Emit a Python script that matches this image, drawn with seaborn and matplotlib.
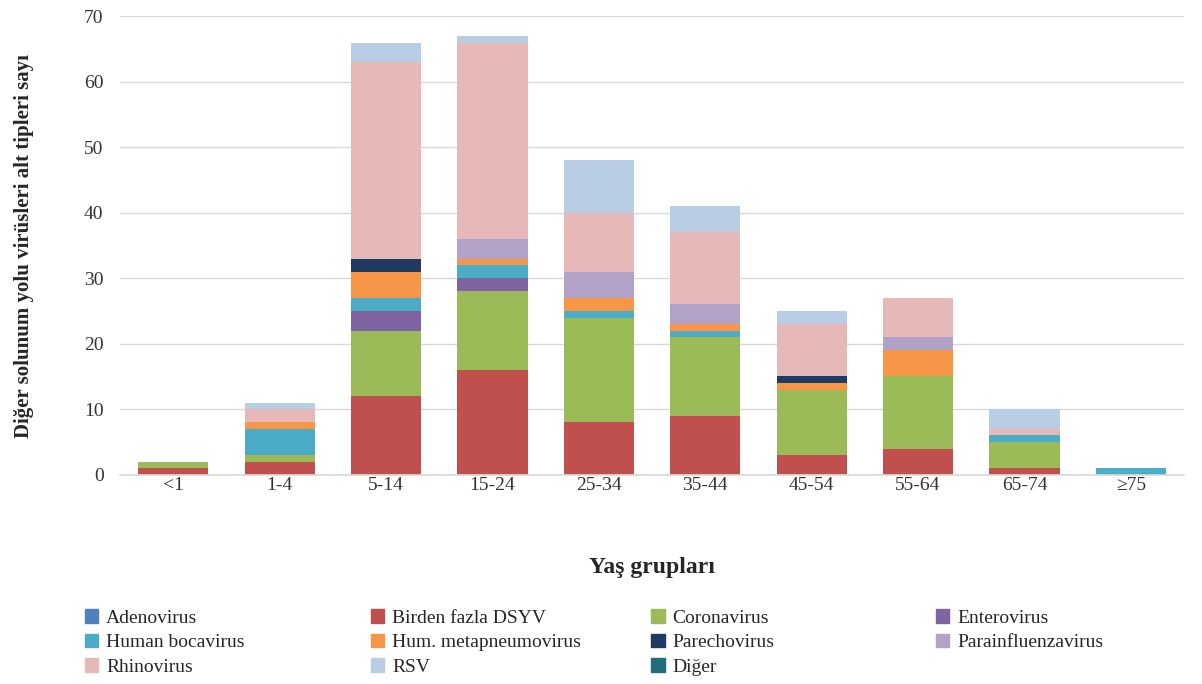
import matplotlib
matplotlib.use("Agg")
import matplotlib.pyplot as plt
import seaborn as sns
import numpy as np
import pandas as pd
from matplotlib.patches import Patch

categories = ["<1", "1-4", "5-14", "15-24", "25-34", "35-44", "45-54", "55-64", "65-74", "≥75"]
series_names = ["Adenovirus", "Birden fazla DSYV", "Coronavirus", "Enterovirus", "Human bocavirus",
                "Hum. metapneumovirus", "Parechovirus", "Parainfluenzavirus", "Rhinovirus", "RSV", "Diğer"]
adenovirus = [0, 0, 0, 0, 0, 0, 0, 0, 0, 0]
dsyv = [1, 2, 12, 16, 8, 9, 3, 4, 1, 0]
coronavirus = [1, 1, 10, 12, 16, 12, 10, 11, 4, 0]
enterovirus = [0, 0, 3, 2, 0, 0, 0, 0, 0, 0]
bocavirus = [0, 4, 2, 2, 1, 1, 0, 0, 1, 1]
metapneumo = [0, 1, 4, 1, 2, 1, 1, 4, 0, 0]
parechovirus = [0, 0, 2, 0, 0, 0, 1, 0, 0, 0]
parainfluenza = [0, 0, 0, 3, 4, 3, 0, 2, 0, 0]
rhinovirus = [0, 2, 30, 30, 9, 11, 8, 6, 1, 0]
rsv = [0, 1, 3, 1, 8, 4, 2, 0, 3, 0]
diger = [0, 0, 0, 0, 0, 0, 0, 0, 0, 0]
series = [adenovirus, dsyv, coronavirus, enterovirus, bocavirus, metapneumo,
          parechovirus, parainfluenza, rhinovirus, rsv, diger]
colors = ["#4F81BD", "#C0504D", "#9BBB59", "#8064A2", "#4BACC6", "#F79646",
          "#1F3B64", "#B3A2C7", "#E6B9B8", "#B9CDE5", "#1F6E7A"]

sns.set_theme(style="white")
plt.rcParams['font.family'] = ['Liberation Serif', 'DejaVu Serif']

fig = plt.figure(figsize=(12.02, 6.84), dpi=100)
ax = fig.add_axes([0.1, 0.306, 0.885, 0.67])
bottom = np.zeros(len(categories))
for name, vals, c in zip(series_names, series, colors):
    df = pd.DataFrame({"cat": categories, "val": vals})
    sns.barplot(data=df, x="cat", y="val", order=categories, color=c, bottom=bottom,
                width=0.66, ax=ax, saturation=1, linewidth=0)
    bottom = bottom + np.array(vals)

ax.set_ylim(0, 70)
ax.set_yticks(range(0, 71, 10))
ax.yaxis.grid(True, color="#D9D9D9", linewidth=1)
ax.set_axisbelow(True)
for s in ["top", "right", "left"]:
    ax.spines[s].set_visible(False)
ax.spines["bottom"].set_color("#D9D9D9")
ax.tick_params(axis="y", labelsize=14, colors="#333333", length=0, pad=12)
ax.tick_params(axis="x", labelsize=14, colors="#333333", length=0, pad=2)
ax.set_xlabel("Yaş grupları", fontsize=17, fontweight="bold", labelpad=45)
ax.set_ylabel("Diğer solunum yolu virüsleri alt tipleri sayı", fontsize=15, fontweight="bold", labelpad=36)

handles = [Patch(color=c, label=n) for n, c in zip(series_names, colors)]
col_x = [0.056, 0.294, 0.527, 0.764]
for j in range(4):
    hs = [handles[i] for i in range(j, len(handles), 4)]
    fig.legend(handles=hs, loc="upper left", bbox_to_anchor=(col_x[j], 0.135), ncol=1,
               frameon=False, fontsize=14, handlelength=0.7, handleheight=0.7,
               labelspacing=0.35, handletextpad=0.4)
fig.savefig("out.png", dpi=100)
